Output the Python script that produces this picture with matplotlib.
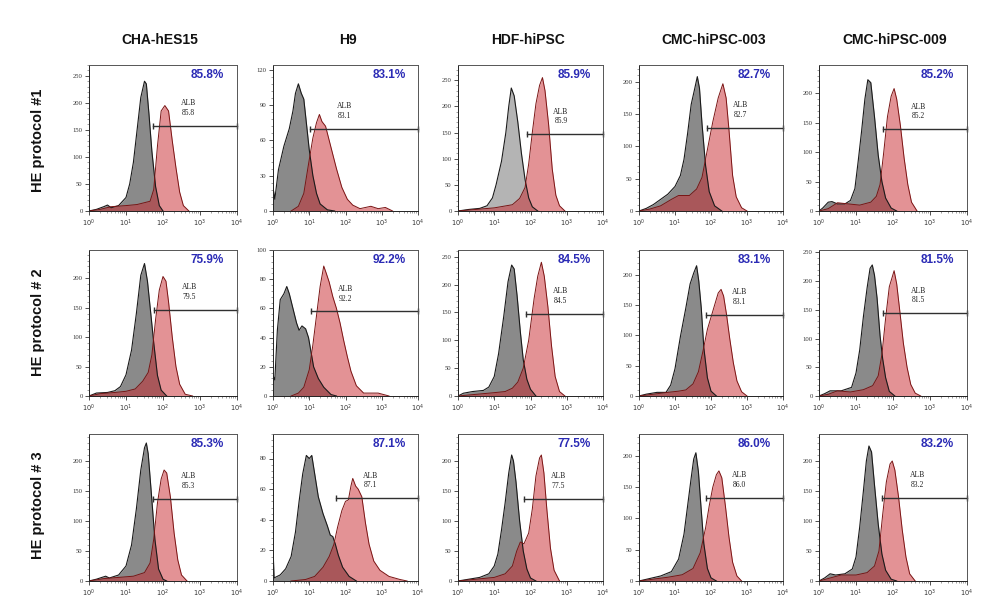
import numpy as np
import matplotlib.pyplot as plt
from matplotlib.ticker import LogLocator, NullFormatter, AutoMinorLocator

plt.rcParams['font.family'] = ['Liberation Sans', 'DejaVu Sans']

cell_lines = ['CHA-hES15', 'H9', 'HDF-hiPSC', 'CMC-hiPSC-003', 'CMC-hiPSC-009']
protocols = ['HE protocol #1', 'HE protocol # 2', 'HE protocol # 3']

# percent shown in blue, and value under the ALB gate
pct_blue = [['85.8%', '83.1%', '85.9%', '82.7%', '85.2%'],
            ['75.9%', '92.2%', '84.5%', '83.1%', '81.5%'],
            ['85.3%', '87.1%', '77.5%', '86.0%', '83.2%']]
gate_val = [['85.8', '83.1', '85.9', '82.7', '85.2'],
            ['79.5', '92.2', '84.5', '83.1', '81.5'],
            ['85.3', '87.1', '77.5', '86.0', '83.2']]

# y-axis max and tick step per panel
ymax = [[270, 124, 279, 226, 248],
        [248, 100, 262, 241, 254],
        [245, 96, 245, 235, 245]]
ystep = [[50, 30, 50, 50, 50],
         [50, 20, 50, 50, 50],
         [50, 20, 50, 50, 50]]

# gate: start (log10 units), height (counts)
gate_start = [[1.74, 1.01, 1.89, 1.88, 1.73],
              [1.76, 1.06, 1.88, 1.85, 1.74],
              [1.73, 1.73, 1.81, 1.85, 1.70]]
gate_y = [[158, 70, 147, 129, 139],
          [146, 58, 148, 134, 144],
          [137, 54, 137, 133, 139]]

# histograms: (log10 intensity, count)
ctrl_1_1 = [(0, 0), (0.2, 3), (0.4, 8), (0.5, 11), (0.6, 6), (0.8, 10), (1.0, 25), (1.1, 50), (1.2, 90),
            (1.3, 150), (1.4, 210), (1.5, 240), (1.55, 235), (1.62, 180), (1.7, 110), (1.8, 45), (1.9, 10), (2.0, 0)]
alb_1_1 = [(0, 0), (0.3, 3), (0.6, 8), (1.0, 10), (1.3, 12), (1.65, 18), (1.75, 40), (1.85, 120), (1.95, 185),
           (2.05, 195), (2.15, 185), (2.25, 130), (2.35, 80), (2.45, 35), (2.55, 10), (2.7, 0)]
ctrl_1_2 = [(0, 20), (0.05, 10), (0.15, 35), (0.3, 55), (0.45, 70), (0.55, 85), (0.62, 100), (0.7, 108), (0.78, 100),
            (0.85, 95), (0.92, 75), (1.0, 52), (1.1, 30), (1.2, 15), (1.3, 6), (1.5, 1), (1.7, 0)]
alb_1_2 = [(0.5, 0), (0.7, 4), (0.85, 15), (0.97, 38), (1.1, 62), (1.2, 75), (1.28, 82), (1.35, 76), (1.45, 72),
           (1.55, 60), (1.65, 48), (1.75, 36), (1.9, 20), (2.05, 10), (2.2, 5), (2.4, 2), (2.7, 4), (2.9, 2),
           (3.1, 3), (3.3, 0)]
ctrl_1_3 = [(0, 0), (0.3, 3), (0.6, 5), (0.8, 10), (0.95, 25), (1.05, 50), (1.2, 95), (1.32, 150), (1.4, 200),
            (1.47, 235), (1.55, 220), (1.65, 170), (1.75, 110), (1.85, 60), (1.95, 25), (2.05, 8), (2.2, 0)]
alb_1_3 = [(0, 0), (0.5, 3), (1.0, 6), (1.5, 12), (1.7, 24), (1.85, 45), (1.95, 90), (2.05, 150), (2.15, 205),
           (2.25, 240), (2.33, 255), (2.4, 230), (2.5, 165), (2.6, 80), (2.7, 30), (2.8, 10), (2.95, 0)]
ctrl_1_4 = [(0, 0), (0.2, 4), (0.4, 10), (0.6, 18), (0.8, 26), (1.0, 38), (1.15, 55), (1.25, 80), (1.35, 120),
            (1.45, 165), (1.55, 190), (1.62, 208), (1.68, 190), (1.75, 135), (1.85, 70), (1.95, 30), (2.1, 8), (2.3, 0)]
alb_1_4 = [(0, 0), (0.3, 3), (0.6, 8), (0.9, 18), (1.1, 24), (1.4, 24), (1.6, 34), (1.75, 52), (1.9, 95),
           (2.05, 138), (2.2, 175), (2.33, 197), (2.42, 175), (2.5, 125), (2.6, 55), (2.7, 22), (2.85, 5), (3.0, 0)]
ctrl_1_5 = [(0, 0), (0.1, 5), (0.25, 15), (0.35, 16), (0.5, 12), (0.7, 12), (0.85, 18), (0.97, 38), (1.06, 85),
            (1.15, 135), (1.24, 190), (1.32, 223), (1.4, 218), (1.5, 160), (1.6, 95), (1.7, 50), (1.8, 22),
            (1.95, 5), (2.1, 0)]
alb_1_5 = [(0, 0), (0.25, 4), (0.5, 14), (0.8, 12), (1.1, 10), (1.4, 15), (1.55, 25), (1.65, 45), (1.75, 100),
           (1.85, 160), (1.95, 195), (2.03, 208), (2.1, 190), (2.2, 145), (2.3, 90), (2.4, 45), (2.5, 15), (2.65, 0)]

ctrl_2_1 = [(0, 0), (0.2, 5), (0.5, 6), (0.7, 9), (0.85, 16), (1.0, 36), (1.15, 78), (1.28, 140), (1.4, 205),
            (1.5, 225), (1.58, 195), (1.67, 140), (1.75, 90), (1.85, 35), (1.95, 10), (2.1, 0)]
alb_2_1 = [(0, 0), (0.3, 4), (0.7, 6), (1.0, 8), (1.25, 12), (1.45, 25), (1.6, 40), (1.7, 70), (1.8, 130),
           (1.9, 180), (2.0, 203), (2.08, 195), (2.15, 160), (2.25, 100), (2.35, 50), (2.45, 20), (2.6, 3), (2.8, 0)]
ctrl_2_2 = [(0, 14), (0.05, 11), (0.12, 45), (0.2, 66), (0.3, 70), (0.38, 75), (0.45, 70), (0.55, 60), (0.65, 50),
            (0.72, 45), (0.8, 48), (0.9, 46), (0.98, 40), (1.05, 30), (1.12, 20), (1.25, 12), (1.4, 6), (1.6, 1),
            (1.75, 0)]
alb_2_2 = [(0.5, 0), (0.7, 2), (0.85, 6), (1.0, 18), (1.1, 35), (1.2, 55), (1.3, 75), (1.4, 89), (1.47, 84),
           (1.55, 78), (1.65, 68), (1.75, 60), (1.85, 50), (1.95, 38), (2.05, 27), (2.15, 17), (2.3, 7), (2.5, 2),
           (2.9, 2), (3.2, 0)]
ctrl_2_3 = [(0, 0), (0.15, 5), (0.4, 8), (0.7, 10), (0.85, 16), (1.0, 35), (1.12, 76), (1.26, 142), (1.38, 205),
            (1.48, 235), (1.55, 228), (1.63, 180), (1.72, 115), (1.8, 65), (1.9, 30), (2.0, 12), (2.15, 0)]
alb_2_3 = [(0, 0), (0.5, 3), (1.0, 6), (1.3, 8), (1.5, 14), (1.65, 25), (1.8, 50), (1.95, 100), (2.1, 175),
           (2.2, 215), (2.3, 240), (2.38, 215), (2.48, 160), (2.58, 90), (2.68, 35), (2.8, 8), (2.95, 0)]
ctrl_2_4 = [(0, 0), (0.2, 3), (0.5, 6), (0.75, 6), (0.88, 18), (1.0, 45), (1.15, 98), (1.3, 145), (1.42, 185),
            (1.52, 203), (1.6, 215), (1.66, 190), (1.73, 145), (1.8, 80), (1.9, 30), (2.0, 8), (2.15, 0)]
alb_2_4 = [(0, 0), (0.4, 3), (0.8, 6), (1.1, 8), (1.3, 10), (1.5, 20), (1.65, 40), (1.78, 75), (1.9, 110),
           (2.0, 130), (2.1, 150), (2.2, 170), (2.28, 176), (2.35, 165), (2.43, 135), (2.52, 95), (2.62, 55),
           (2.72, 25), (2.85, 7), (3.0, 0)]
ctrl_2_5 = [(0, 0), (0.15, 4), (0.3, 9), (0.6, 9), (0.88, 15), (1.0, 40), (1.1, 80), (1.2, 138), (1.3, 188),
            (1.38, 222), (1.44, 228), (1.5, 210), (1.57, 170), (1.65, 105), (1.72, 65), (1.8, 32), (1.9, 8), (2.05, 0)]
alb_2_5 = [(0, 0), (0.25, 3), (0.5, 9), (0.85, 7), (1.2, 11), (1.45, 18), (1.6, 35), (1.7, 72), (1.8, 135),
           (1.9, 190), (1.97, 205), (2.03, 218), (2.1, 195), (2.18, 150), (2.28, 92), (2.38, 50), (2.48, 20),
           (2.6, 5), (2.75, 0)]

ctrl_3_1 = [(0, 0), (0.2, 3), (0.45, 8), (0.55, 5), (0.8, 10), (1.0, 25), (1.15, 60), (1.28, 120), (1.4, 185),
            (1.5, 222), (1.55, 230), (1.6, 212), (1.68, 150), (1.78, 70), (1.88, 20), (2.0, 3), (2.1, 0)]
alb_3_1 = [(0, 0), (0.4, 4), (0.8, 6), (1.2, 8), (1.5, 14), (1.65, 30), (1.75, 70), (1.85, 130), (1.95, 170),
           (2.03, 185), (2.1, 180), (2.2, 140), (2.3, 80), (2.4, 35), (2.5, 10), (2.65, 0)]
ctrl_3_2 = [(0, 22), (0.03, 2), (0.2, 4), (0.35, 8), (0.5, 16), (0.62, 32), (0.72, 52), (0.82, 70), (0.92, 82),
            (1.0, 80), (1.07, 82), (1.15, 70), (1.25, 55), (1.38, 44), (1.5, 36), (1.58, 30), (1.65, 29), (1.72, 24),
            (1.8, 17), (1.92, 9), (2.1, 3), (2.3, 0)]
alb_3_2 = [(0.5, 0), (0.9, 1), (1.15, 3), (1.38, 9), (1.55, 16), (1.68, 24), (1.78, 35), (1.9, 46), (2.0, 52),
           (2.08, 53), (2.15, 62), (2.2, 67), (2.28, 62), (2.35, 60), (2.45, 55), (2.55, 38), (2.65, 24), (2.78, 13),
           (2.95, 7), (3.2, 3), (3.5, 1), (3.7, 0)]
ctrl_3_3 = [(0, 0), (0.3, 3), (0.6, 6), (0.85, 12), (1.0, 25), (1.1, 45), (1.2, 85), (1.3, 130), (1.4, 180),
            (1.48, 210), (1.53, 200), (1.6, 165), (1.7, 100), (1.8, 50), (1.9, 20), (2.0, 5), (2.15, 0)]
alb_3_3 = [(0, 0), (0.5, 3), (1.0, 6), (1.3, 12), (1.5, 25), (1.62, 50), (1.72, 65), (1.82, 62), (1.95, 80),
           (2.05, 120), (2.15, 175), (2.25, 205), (2.3, 210), (2.37, 180), (2.45, 120), (2.55, 55), (2.65, 18), (2.8, 0)]
ctrl_3_4 = [(0, 0), (0.3, 4), (0.6, 8), (0.9, 15), (1.1, 35), (1.25, 75), (1.35, 120), (1.45, 165), (1.52, 195),
            (1.58, 205), (1.65, 175), (1.72, 120), (1.8, 60), (1.9, 20), (2.0, 5), (2.15, 0)]
alb_3_4 = [(0, 0), (0.4, 3), (0.8, 6), (1.2, 10), (1.5, 20), (1.7, 45), (1.85, 85), (1.95, 120), (2.05, 150),
           (2.15, 170), (2.22, 176), (2.3, 165), (2.4, 120), (2.5, 70), (2.6, 30), (2.72, 8), (2.85, 0)]
ctrl_3_5 = [(0, 0), (0.15, 5), (0.3, 12), (0.45, 10), (0.7, 12), (0.9, 20), (1.0, 40), (1.1, 90), (1.2, 150),
            (1.28, 200), (1.35, 225), (1.42, 215), (1.5, 160), (1.6, 95), (1.7, 45), (1.8, 18), (1.95, 3), (2.1, 0)]
alb_3_5 = [(0, 0), (0.3, 5), (0.6, 10), (1.0, 10), (1.3, 14), (1.5, 25), (1.62, 50), (1.72, 110), (1.82, 165),
           (1.92, 195), (1.98, 200), (2.05, 185), (2.15, 140), (2.25, 85), (2.35, 40), (2.45, 12), (2.6, 0)]

ctrl = [[ctrl_1_1, ctrl_1_2, ctrl_1_3, ctrl_1_4, ctrl_1_5],
        [ctrl_2_1, ctrl_2_2, ctrl_2_3, ctrl_2_4, ctrl_2_5],
        [ctrl_3_1, ctrl_3_2, ctrl_3_3, ctrl_3_4, ctrl_3_5]]
alb = [[alb_1_1, alb_1_2, alb_1_3, alb_1_4, alb_1_5],
       [alb_2_1, alb_2_2, alb_2_3, alb_2_4, alb_2_5],
       [alb_3_1, alb_3_2, alb_3_3, alb_3_4, alb_3_5]]

W, H = 1005, 607
cols_px = [(89, 237), (273, 418), (458, 603), (639, 783), (819, 967)]
rows_px = [(65, 211), (250, 396), (434, 581)]

fig = plt.figure(figsize=(W / 100, H / 100), dpi=100)
serif = ['Liberation Serif', 'DejaVu Serif']

for r in range(3):
    for c in range(5):
        x0, x1 = cols_px[c]
        top, bot = rows_px[r]
        ax = fig.add_axes([x0 / W, 1 - bot / H, (x1 - x0) / W, (bot - top) / H])

        g = np.array(ctrl[r][c])
        a = np.array(alb[r][c])
        gray = '#b4b4b4' if (r, c) == (0, 2) else '#8a8a8a'
        ax.fill_between(10 ** g[:, 0], g[:, 1], color=gray, lw=0)
        ax.plot(10 ** g[:, 0], g[:, 1], color='#1a1a1a', lw=0.8)
        ax.fill_between(10 ** a[:, 0], a[:, 1], color='#c8262c', alpha=0.5, lw=0)
        ax.plot(10 ** a[:, 0], a[:, 1], color='#7a1414', lw=0.7)

        # ALB gate
        gy = gate_y[r][c]
        ax.plot([10 ** gate_start[r][c], 1e4], [gy, gy], color='#303030', lw=1.0,
                marker='|', ms=4, mew=1.0, clip_on=False)
        lx = 10 ** (gate_start[r][c] + 0.95)
        ax.text(lx, gy + 0.06 * ymax[r][c], 'ALB\n' + gate_val[r][c], ha='center', va='bottom',
                fontsize=5.5, family=serif, color='#222222', linespacing=1.3)
        ax.text(0.80, 0.93, pct_blue[r][c], transform=ax.transAxes, ha='center', va='center',
                fontsize=8.5, fontweight='bold', color='#2b2bb5')

        ax.set_xscale('log')
        ax.set_xlim(1, 1e4)
        ax.set_ylim(0, ymax[r][c])
        ax.set_xticks([1, 10, 100, 1000, 10000])
        ax.set_xticklabels(['$10^0$', '$10^1$', '$10^2$', '$10^3$', '$10^4$'])
        ax.xaxis.set_minor_locator(LogLocator(base=10, subs=np.arange(2, 10), numticks=20))
        ax.xaxis.set_minor_formatter(NullFormatter())
        ax.set_yticks(np.arange(0, ymax[r][c] + 1, ystep[r][c]))
        ax.yaxis.set_minor_locator(AutoMinorLocator(5))
        ax.tick_params(which='major', length=3, width=0.6, labelsize=4.8, colors='#333333', pad=1.5)
        ax.tick_params(which='minor', length=1.5, width=0.4, colors='#555555')
        for lab in ax.get_xticklabels() + ax.get_yticklabels():
            lab.set_family(serif)
        for s in ax.spines.values():
            s.set_color('#555555')
            s.set_linewidth(0.7)
        ax.spines['left'].set_color('#222222')
        ax.spines['bottom'].set_color('#222222')

col_cx = [160, 348, 528, 714, 895]
for c, name in enumerate(cell_lines):
    fig.text(col_cx[c] / W, 1 - 40 / H, name, ha='center', va='center',
             fontsize=10, fontweight='bold', color='#111111')
row_cy = [140, 322, 505]
for r, name in enumerate(protocols):
    fig.text(38 / W, 1 - row_cy[r] / H, name, ha='center', va='center', rotation=90,
             fontsize=10.5, fontweight='bold', color='#111111')

fig.savefig('out.png', dpi=100, facecolor='white')
